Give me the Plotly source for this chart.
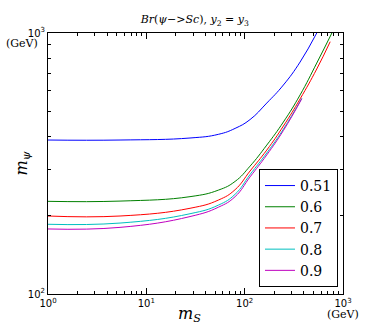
import plotly.graph_objects as go

# values (m_S in GeV, m_psi in GeV)
labels = ["0.51", "0.6", "0.7", "0.8", "0.9"]
colors = ["#0000ff", "#008000", "#ff0000", "#00bfbf", "#bf00bf"]

ms_051 = [1, 5.4, 27.8, 54, 79.9, 113.5, 167.8, 247.6, 366, 541]
mpsi_051 = [389, 389, 396, 409, 431, 466, 539, 632, 774, 1000]

ms_06 = [1, 5.4, 27.8, 54, 79.9, 113.5, 167.8, 247.6, 366, 541, 771]
mpsi_06 = [226.5, 227, 236, 250, 270, 309, 372, 456, 579, 767, 1000]

ms_07 = [1, 5.4, 27.8, 54, 79.9, 113.5, 167.8, 247.6, 366, 541, 741]
mpsi_07 = [199, 199, 213, 229, 251, 296, 356, 440, 559, 728, 926]

ms_08 = [1, 5.4, 27.8, 54, 79.9, 113.5, 167.8, 247.6, 381]
mpsi_08 = [185, 187, 203, 219, 241, 287, 347, 428, 562]

ms_09 = [1, 5.4, 27.8, 54, 79.9, 113.5, 167.8, 247.6, 381]
mpsi_09 = [177.5, 180, 198, 215, 236, 281, 341, 423, 560]

series = [(ms_051, mpsi_051), (ms_06, mpsi_06), (ms_07, mpsi_07),
          (ms_08, mpsi_08), (ms_09, mpsi_09)]

fig = go.Figure()
for (x, y), name, c in zip(series, labels, colors):
    fig.add_trace(go.Scatter(x=x, y=y, mode="lines", name=name,
                             line=dict(color=c, width=1, shape="spline", smoothing=1.3)))

serif = "DejaVu Serif"
sans = "DejaVu Sans"

fig.update_layout(
    width=382, height=327,
    margin=dict(l=48, r=39, t=33, b=33, autoexpand=False),
    paper_bgcolor="white", plot_bgcolor="white",
    showlegend=True,
    legend=dict(x=0.983, y=0.027, xanchor="right", yanchor="bottom",
                bordercolor="black", borderwidth=1, bgcolor="white",
                font=dict(family=serif, size=14, color="black"),
                tracegroupgap=0, itemwidth=30),
    title=dict(text="<i>Br</i>(<i>ψ</i>−><i>Sc</i>), <i>y</i><sub>2</sub> = <i>y</i><sub>3</sub>",
               x=0.51, xanchor="center", y=0.94, yanchor="middle",
               font=dict(family=serif, size=11, color="black")),
)

axis_common = dict(
    showgrid=False, zeroline=False, showline=True, linecolor="black", linewidth=1,
    mirror="allticks", ticks="inside", ticklen=6, tickcolor="black", automargin=False,
    tickfont=dict(family=sans, size=10, color="black"),
)

fig.update_xaxes(type="log", range=[0, 3],
                 tickvals=[1, 10, 100, 1000],
                 ticktext=["10<sup>0</sup>", "10<sup>1</sup>", "10<sup>2</sup>", "10<sup>3</sup>"],
                 minor=dict(ticks="inside", ticklen=3, tickcolor="black",
                            tickvals=[a * 10 ** d for d in range(3) for a in range(2, 10)]),
                 **axis_common)
fig.update_yaxes(type="log", range=[2, 3],
                 tickvals=[100, 1000],
                 ticktext=["10<sup>2</sup>", "10<sup>3</sup>"],
                 minor=dict(ticks="inside", ticklen=3, tickcolor="black",
                            tickvals=[a * 100 for a in range(2, 10)]),
                 **axis_common)

note_font = dict(family=serif, size=11, color="black")
fig.add_annotation(text="(GeV)", xref="paper", yref="paper", x=-0.088, y=0.958,
                   xanchor="center", yanchor="middle", showarrow=False, font=note_font)
fig.add_annotation(text="(GeV)", xref="paper", yref="paper", x=1.0, y=-0.08,
                   xanchor="center", yanchor="middle", showarrow=False, font=note_font)
fig.add_annotation(text="<i>m</i><sub><i>ψ</i></sub>", xref="paper", yref="paper",
                   x=-0.088, y=0.5, xanchor="center", yanchor="middle",
                   textangle=-90, showarrow=False,
                   font=dict(family=serif, size=16, color="black"))
fig.add_annotation(text="<i>m</i><sub><i>S</i></sub>", xref="paper", yref="paper",
                   x=0.48, y=-0.08, xanchor="center", yanchor="middle", showarrow=False,
                   font=dict(family=serif, size=16, color="black"))

fig.write_html("out.html", config={"displayModeBar": False},
               post_script="document.body.style.margin='0';")
